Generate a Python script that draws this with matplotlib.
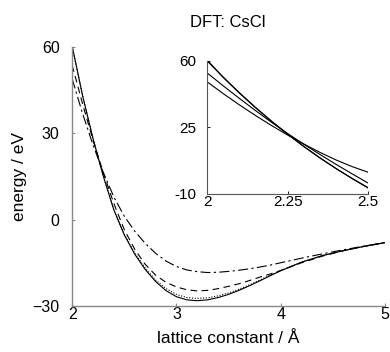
import matplotlib
matplotlib.use('Agg')
import matplotlib.pyplot as plt

plt.rcParams['font.family'] = ['Liberation Sans', 'DejaVu Sans']

# main panel data (energy / eV vs lattice constant / Angstrom)
x_main = [2.0, 2.1, 2.2, 2.3, 2.4, 2.5, 2.6, 2.7, 2.8, 2.9, 3.0, 3.1, 3.2,
          3.3, 3.4, 3.5, 3.6, 3.7, 3.8, 3.9, 4.0, 4.2, 4.4, 4.6, 4.8, 5.0]
e_solid = [60.5, 43.1, 28.2, 15.0, 3.4, -5.3, -12.0, -17.3, -21.5, -24.7, -26.8, -27.9, -28.2,
           -27.9, -27.1, -26.0, -24.6, -23.0, -21.3, -19.5, -17.8, -14.8, -12.5, -10.8, -9.3, -8.0]
e_dotted = [60.0, 43.3, 28.3, 15.0, 3.4, -5.1, -11.6, -16.8, -21.0, -24.0, -26.0, -27.1, -27.4,
            -27.2, -26.5, -25.5, -24.2, -22.7, -21.0, -19.3, -17.7, -14.8, -12.5, -10.8, -9.3, -8.0]
e_dashed = [53.7, 40.3, 27.7, 16.2, 5.6, -3.5, -10.3, -15.5, -19.3, -21.8, -23.4, -24.4, -24.8,
            -24.6, -24.0, -23.2, -22.3, -21.2, -20.0, -18.9, -17.7, -15.0, -12.7, -10.8, -9.3, -8.0]
e_dashdot = [49.0, 36.9, 26.0, 16.3, 7.9, 1.2, -4.0, -8.2, -11.7, -14.4, -16.3, -17.5, -18.1,
             -18.4, -18.3, -18.0, -17.6, -17.1, -16.5, -15.8, -15.0, -13.4, -11.9, -10.5, -9.2, -8.0]

# inset data (zoom on 2.0 - 2.5)
x_ins = [2.0, 2.05, 2.1, 2.15, 2.2, 2.25, 2.3, 2.35, 2.4, 2.45, 2.5]
i_solid = [60.5, 51.3, 43.1, 35.4, 28.2, 21.4, 15.0, 9.0, 3.4, -1.9, -6.9]
i_dotted = [60.0, 51.5, 43.3, 35.6, 28.3, 21.5, 15.0, 9.0, 3.4, -1.8, -6.7]
i_dashed = [53.7, 46.9, 40.3, 33.9, 27.7, 21.8, 16.2, 10.8, 5.6, 0.6, -4.3]
i_dashdot = [49.0, 42.8, 36.9, 31.3, 26.0, 21.0, 16.3, 11.9, 7.9, 4.4, 1.4]

fig = plt.figure(figsize=(3.9, 3.52), dpi=100)

ax = fig.add_axes([0.185, 0.131, 0.802, 0.735])
lw = 0.8
ax.plot(x_main, e_solid, color='black', lw=lw, ls='-')
ax.plot(x_main, e_dotted, color='black', lw=lw, ls=(0, (1, 1.5)))
ax.plot(x_main, e_dashed, color='black', lw=lw, ls=(0, (6, 4)))
ax.plot(x_main, e_dashdot, color='black', lw=lw, ls=(0, (9, 3, 2, 3)))
ax.set_xlim(2, 5)
ax.set_ylim(-30, 60)
ax.set_xticks([2, 3, 4, 5])
ax.set_yticks([60, 30, 0, -30])
ax.set_yticklabels(['60', '30', '0', '\u221230'])
for s in ['top', 'right']:
    ax.spines[s].set_visible(False)
for s in ['left', 'bottom']:
    ax.spines[s].set_color('#888888')
    ax.spines[s].set_linewidth(1.0)
ax.tick_params(direction='in', length=2, width=0.8, color='#888888', labelsize=11.5)
ax.tick_params(axis='y', pad=9)
ax.tick_params(axis='x', pad=1)
ax.set_xlabel('lattice constant / \u00c5', fontsize=12.5, labelpad=6)
ax.set_ylabel('energy / eV', fontsize=12.5, labelpad=4)

fig.text(0.585, 0.937, 'DFT: CsCl', fontsize=12, ha='center', va='center')

# inset
axi = fig.add_axes([0.531, 0.449, 0.413, 0.378])
for ys in [i_solid, i_dotted, i_dashed, i_dashdot]:
    axi.plot(x_ins, ys, color='black', lw=0.8)
axi.set_xlim(2, 2.5)
axi.set_ylim(-10, 60)
axi.set_xticks([2, 2.25, 2.5])
axi.set_xticklabels(['2', '2.25', '2.5'])
axi.set_yticks([60, 25, -10])
axi.set_yticklabels(['60', '25', '-10'])
for s in ['top', 'right']:
    axi.spines[s].set_visible(False)
for s in ['left', 'bottom']:
    axi.spines[s].set_color('#555555')
    axi.spines[s].set_linewidth(0.8)
axi.tick_params(direction='in', length=2, width=0.6, labelsize=11)
axi.tick_params(axis='y', pad=8)
axi.tick_params(axis='x', pad=1)
axi.patch.set_alpha(0)

fig.savefig('out.png', dpi=100)
